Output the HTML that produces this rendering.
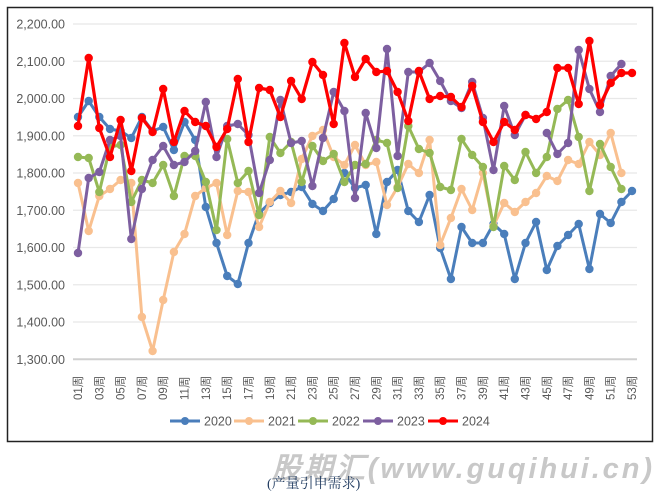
<!DOCTYPE html>
<html><head><meta charset="utf-8"><style>
body{margin:0;background:#fff;width:672px;height:498px;overflow:hidden;font-family:"Liberation Sans",sans-serif}
</style></head><body>
<svg id="s" width="672" height="498" xmlns="http://www.w3.org/2000/svg">
<rect x="7.5" y="7.5" width="645" height="434" fill="#fff" stroke="#222" stroke-width="1.5"/>
<g id="g"></g>
<text x="272" y="478" font-family="Liberation Sans, sans-serif" font-weight="bold" font-style="italic" font-size="29" fill="#c8c8c8" textLength="380">股期汇(www.guqihui.cn)</text>
<text x="267" y="488" font-family="Liberation Serif, Noto Serif CJK SC, serif" font-size="14" fill="#1f3a5f">(产量引申需求)</text>
</svg>
<script>
var g=document.getElementById('g'),h='';
var X=function(i){return 78+10.654*i};
for(var k=0;k<=9;k++){var y=24+k*37.25;h+='<line x1="73" x2="637" y1="'+y+'" y2="'+y+'" stroke="'+(k==9?'#d0d0d0':'#e8e8e8')+'" stroke-width="'+(k==9?2:1.3)+'"/>';
var v=(2200-k*100);h+='<text x="65" y="'+(y+4.5)+'" text-anchor="end" font-size="12.5" fill="#595959">'+(v/1000|0)+','+String(v%1000).padStart(3,'0')+'.00</text>';}
for(var i=0;i<53;i+=2){var x=X(i),l=String(i+1).padStart(2,'0')+'周';h+='<text transform="translate('+(x+4)+',400) rotate(-90)" font-size="11.5" fill="#595959" font-family="Liberation Sans,Noto Sans CJK SC,sans-serif">'+l+'</text>';}
var S={
'#4a7ebb':[117,101,117,129,131,138,117,131,127,150,122,140,207,243,276,284,243,213,203,195,192,187,204,211,199,173,188,185,234,182,170,211,222,195,248,279,227,243,243,224,234,279,243,222,270,246,235,224,269,214,223,202,191],
'#f9c08f':[183,231,196,189,180,183,317,351,300,252,234,196,188,183,235,191,192,227,202,191,203,159,136,130,157,165,145,165,162,205,187,164,173,140,245,218,189,210,173,226,203,212,202,193,176,181,160,164,142,155,133,173,null],
'#95b956':[157,158,192,147,145,202,180,183,165,196,156,156,182,230,139,183,171,215,137,153,142,182,146,161,154,182,165,164,140,143,188,126,149,153,187,190,139,155,167,227,166,180,152,173,157,109,100,137,191,144,167,189,null],
'#7d5fa0':[253,178,172,140,136,239,189,160,146,165,162,151,102,157,126,124,135,193,160,100,143,141,186,138,92,111,198,113,148,49,156,72,72,63,81,101,108,82,118,170,106,135,115,null,133,154,143,50,89,112,76,64,null],
'#ff0000':[126,58,128,157,120,171,118,132,89,142,111,122,126,147,129,79,142,88,90,117,81,99,62,75,124,43,77,59,72,71,92,121,71,99,96,97,107,86,122,142,122,130,115,119,112,68,68,104,41,105,83,73,73]};
for(var c in S){var d=S[c],p='',m='',w=c=='#ff0000'?3.2:3;
for(var i=0;i<d.length;i++){if(d[i]==null){p+=' ';continue;}var pre=(i==0||d[i-1]==null)?'M':'L';p+=pre+X(i).toFixed(1)+','+d[i]+' ';m+='<circle cx="'+X(i).toFixed(1)+'" cy="'+d[i]+'" r="4.2" fill="'+c+'"/>';}
h+='<path d="'+p+'" fill="none" stroke="'+c+'" stroke-width="'+w+'" stroke-linejoin="round"/>'+m;}
var L=[['#4a7ebb','2020',170],['#f9c08f','2021',234],['#95b956','2022',298],['#7d5fa0','2023',363],['#ff0000','2024',428]];
L.forEach(function(a){h+='<line x1="'+a[2]+'" x2="'+(a[2]+30)+'" y1="421" y2="421" stroke="'+a[0]+'" stroke-width="3"/><circle cx="'+(a[2]+15)+'" cy="421" r="4" fill="'+a[0]+'"/><text x="'+(a[2]+34)+'" y="425.5" font-size="12.5" fill="#595959">'+a[1]+'</text>';});
g.innerHTML=h;
</script>
</body></html>
